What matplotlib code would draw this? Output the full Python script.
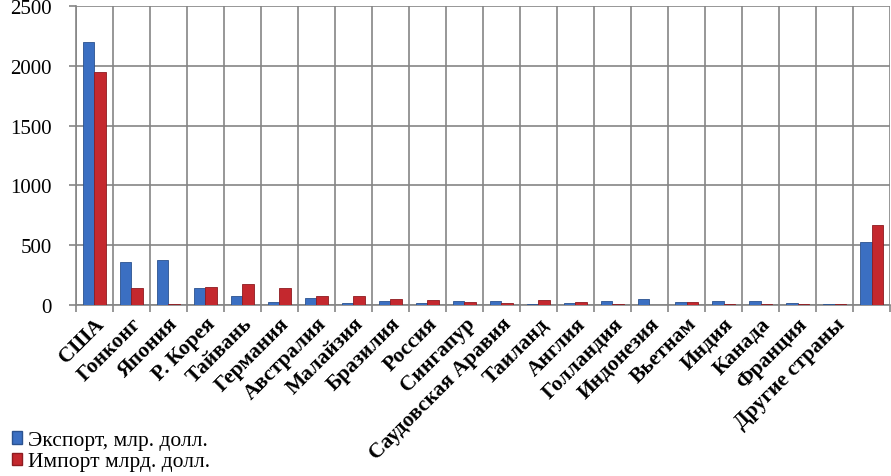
import matplotlib.pyplot as plt
import numpy as np
from matplotlib.patches import Patch

# Data
countries = ['США', 'Гонконг', 'Япония', 'Р. Корея', 'Тайвань', 'Германия', 'Австралия',
             'Малайзия', 'Бразилия', 'Россия', 'Сингапур', 'Саудовская Аравия', 'Таиланд',
             'Англия', 'Голландия', 'Индонезия', 'Вьетнам', 'Индия', 'Канада', 'Франция',
             'Другие страны', '']
export = [2200, 360, 375, 140, 75, 25, 55, 17, 33, 19, 36, 33, 5, 17, 33, 47, 25, 33, 33, 17, 6, 530]
imports = [1950, 140, 5, 150, 172, 142, 75, 75, 47, 39, 22, 19, 39, 25, 8, 2, 22, 8, 5, 12, 6, 670]

blue = '#3b6fc2'
red = '#c4282e'

fig = plt.figure(figsize=(8.91, 4.77), dpi=100)
ax = fig.add_axes([0.085, 0.3585, 0.914, 0.627])

x = np.arange(len(countries))
w = 0.31
ax.bar(x - w/2, export, w, color=blue, edgecolor='#2b528f', linewidth=0.6, zorder=3)
ax.bar(x + w/2, imports, w, color=red, edgecolor='#8e1b20', linewidth=0.6, zorder=3)

# axes and grid
ax.set_xlim(-0.5, len(countries) - 0.5)
ax.set_ylim(0, 2500)
ax.set_yticks([0, 500, 1000, 1500, 2000, 2500])
ax.set_yticklabels(['0', '500', '1000', '1500', '2000', '2500'], fontfamily='Liberation Serif', fontsize=15)
ax.yaxis.grid(True, color='#858585', linewidth=1.2, zorder=0)
ax.set_xticks(np.arange(len(countries) + 1) - 0.5, minor=True)
ax.xaxis.grid(True, which='minor', color='#858585', linewidth=1.2, zorder=0)
ax.set_xticks(x)
ax.set_xticklabels(countries, rotation=45, ha='right', va='top', rotation_mode='anchor',
                   fontfamily='Liberation Serif', fontweight='bold', fontsize=15.5)
ax.tick_params(axis='x', which='major', length=0, pad=6)
ax.tick_params(axis='x', which='minor', length=5, color='#858585', width=1.2)
ax.tick_params(axis='y', length=5, color='#858585', width=1.2, pad=12)
for s in ['top', 'right']:
    ax.spines[s].set_visible(False)
ax.spines['left'].set_color('#858585')
ax.spines['bottom'].set_color('#858585')
ax.spines['left'].set_linewidth(1.2)
ax.spines['bottom'].set_linewidth(1.2)

# legend
handles = [Patch(facecolor=blue, edgecolor='#2b528f'), Patch(facecolor=red, edgecolor='#8e1b20')]
fig.legend(handles, ['Экспорт, млр. долл.', 'Импорт млрд. долл.'], loc='lower left',
           bbox_to_anchor=(-0.004, -0.022), frameon=False, handlelength=0.5, handleheight=0.5,
           handletextpad=0.25, labelspacing=0.1, borderpad=0.2,
           prop={'family': 'Liberation Serif', 'size': 15.5})

plt.savefig('out.png')
